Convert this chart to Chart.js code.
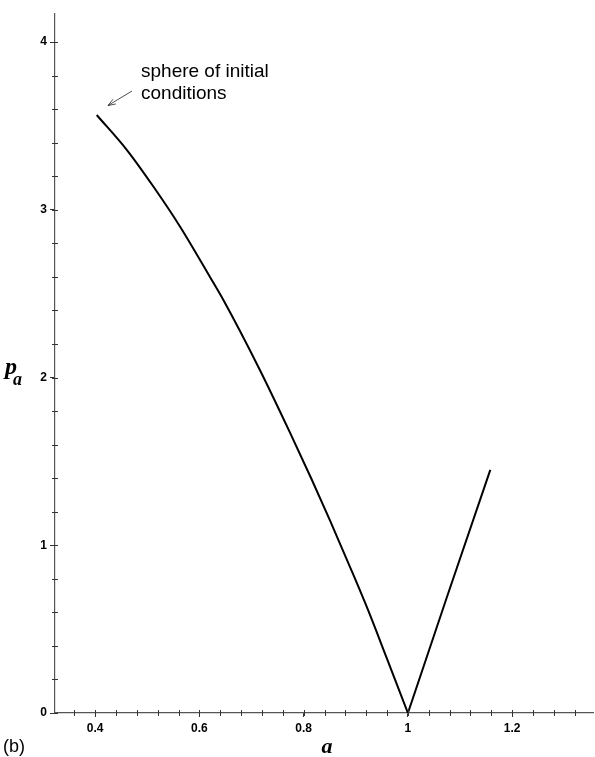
<!DOCTYPE html>
<html>
<head>
<meta charset="utf-8">
<script src="https://cdn.jsdelivr.net/npm/chart.js@4"></script>
<style>
  html, body { margin: 0; padding: 0; background: #fff; }
  #wrap { width: 595px; height: 757px; }
</style>
</head>
<body>
<div id="wrap"><canvas id="chart" width="595" height="757"></canvas></div>
<script>
// curve values (a, p_a)
const leftA = [0.403, 0.461, 0.512, 0.563, 0.620, 0.646, 0.716, 0.774, 0.815, 0.850, 0.889, 0.924, 0.959, 1.0];
const leftP = [3.565, 3.356, 3.137, 2.899, 2.601, 2.462, 2.045, 1.670, 1.395, 1.151, 0.870, 0.610, 0.330, 0];
const rightA = [1.0, 1.075, 1.158];
const rightP = [0, 0.693, 1.449];

const xTicks = [0.4, 0.6, 0.8, 1, 1.2];
const yTicks = [0, 1, 2, 3, 4];
const xMinorStep = 0.04;
const yMinorStep = 0.2;

function toPoints(xs, ys) {
    return xs.map((x, i) => ({ x: x, y: ys[i] }));
}

// minor ticks, axis titles and the note
const extras = {
    id: 'extras',
    afterDraw(chart) {
        const ctx = chart.ctx;
        const xs = chart.scales.x, ys = chart.scales.y;
        const area = chart.chartArea;
        ctx.save();
        ctx.strokeStyle = '#333';
        ctx.lineWidth = 1;
        // x minor ticks
        for (let v = 0.36; v < xs.max; v += xMinorStep) {
            const px = Math.round(xs.getPixelForValue(v)) + 0.5;
            ctx.beginPath();
            ctx.moveTo(px, area.bottom - 3);
            ctx.lineTo(px, area.bottom + 3);
            ctx.stroke();
        }
        // y minor ticks
        for (let v = 0; v < ys.max; v += yMinorStep) {
            const py = Math.round(ys.getPixelForValue(v)) + 0.5;
            ctx.beginPath();
            ctx.moveTo(area.left - 3, py);
            ctx.lineTo(area.left + 3, py);
            ctx.stroke();
        }
        // axis titles
        ctx.fillStyle = '#000';
        ctx.textBaseline = 'alphabetic';
        ctx.textAlign = 'left';
        ctx.font = 'bold italic 24px "Liberation Serif", "Times New Roman", serif';
        ctx.fillText('p', 5, 374);
        ctx.font = 'bold italic 18px "Liberation Serif", "Times New Roman", serif';
        ctx.fillText('a', 13, 385);
        ctx.textAlign = 'center';
        ctx.font = 'bold italic 22px "Liberation Serif", "Times New Roman", serif';
        ctx.fillText('a', 327, 753);
        ctx.textAlign = 'left';
        ctx.font = '18px "Liberation Sans", Arial, sans-serif';
        ctx.fillText('(b)', 3, 752);
        // note with arrow
        ctx.font = '19px "Liberation Sans", Arial, sans-serif';
        ctx.fillText('sphere of initial', 141, 77);
        ctx.fillText('conditions', 141, 99);
        ctx.strokeStyle = '#222';
        ctx.lineWidth = 0.8;
        const x1 = 132, y1 = 91, x2 = 108, y2 = 105.5;
        ctx.beginPath();
        ctx.moveTo(x1, y1);
        ctx.lineTo(x2, y2);
        const ang = Math.atan2(y2 - y1, x2 - x1);
        ctx.moveTo(x2 - 8 * Math.cos(ang - 0.35), y2 - 8 * Math.sin(ang - 0.35));
        ctx.lineTo(x2, y2);
        ctx.lineTo(x2 - 8 * Math.cos(ang + 0.35), y2 - 8 * Math.sin(ang + 0.35));
        ctx.stroke();
        ctx.restore();
    }
};

const tickFont = { family: '"Liberation Sans", Arial, sans-serif', size: 12, weight: 'bold' };

new Chart(document.getElementById('chart'), {
    type: 'scatter',
    data: {
        datasets: [{
            data: toPoints(leftA, leftP),
            showLine: true,
            borderColor: '#000',
            borderWidth: 2,
            pointRadius: 0,
            cubicInterpolationMode: 'monotone'
        }, {
            data: toPoints(rightA, rightP),
            showLine: true,
            borderColor: '#000',
            borderWidth: 2,
            pointRadius: 0,
            tension: 0
        }]
    },
    options: {
        responsive: false,
        animation: false,
        devicePixelRatio: 1,
        layout: { padding: { top: 14, right: 2, left: 0, bottom: 0 } },
        plugins: {
            legend: { display: false },
            tooltip: { enabled: false }
        },
        scales: {
            x: {
                type: 'linear',
                min: 0.323,
                max: 1.355,
                afterBuildTicks: s => { s.ticks = xTicks.map(v => ({ value: v })); },
                afterFit: s => { s.height = 44; },
                ticks: { font: tickFont, color: '#000', padding: 4, maxRotation: 0, callback: v => String(v) },
                grid: { drawOnChartArea: false, tickLength: 4, color: '#333' },
                border: { color: '#555', width: 1.2 }
            },
            y: {
                min: 0,
                max: 4.167,
                afterBuildTicks: s => { s.ticks = yTicks.map(v => ({ value: v })); },
                afterFit: s => { s.width = 55; },
                ticks: { font: tickFont, color: '#000', padding: 3, callback: v => String(v) },
                grid: { drawOnChartArea: false, tickLength: 5, color: '#333' },
                border: { color: '#555', width: 1.2 }
            }
        }
    },
    plugins: [extras]
});
</script>
</body>
</html>
